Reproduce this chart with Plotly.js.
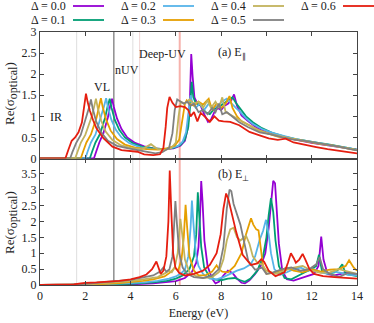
<!DOCTYPE html>
<html>
<head>
<meta charset="utf-8">
<script src="https://cdn.plot.ly/plotly-3.0.1.min.js"></script>
<style>body{margin:0;background:#fff}#plot{width:374px;height:323px}</style>
</head>
<body>
<div id="plot"></div>
<script>
const deltas = ['0.0', '0.1', '0.2', '0.3', '0.4', '0.5', '0.6'];
const colors = ['#9400d3', '#009e73', '#56b4e9', '#e69f00', '#c2b35c', '#808080', '#e51e10'];

// (a) E parallel: energy (eV) and Re(sigma) per delta
const eParD00 = [0, 2.38, 2.48, 2.62, 2.8, 3.0, 3.1, 3.18, 3.26, 3.4, 3.6, 3.85, 4.2, 4.6, 5.0, 5.5, 5.9, 6.2, 6.4, 6.52, 6.62, 6.68, 6.74, 6.82, 6.95, 7.1, 7.25, 7.42, 7.55, 7.7, 7.85, 8.0, 8.15, 8.3, 8.45, 8.57, 8.7, 8.9, 9.2, 9.6, 10.0, 10.5, 11.0, 11.5, 12.0, 12.5, 13.0, 13.5, 14];
const sParD00 = [0, 0, 0.16, 0.38, 0.6, 0.98, 1.25, 1.42, 1.22, 0.95, 0.7, 0.5, 0.37, 0.29, 0.24, 0.22, 0.24, 0.3, 0.42, 0.7, 1.4, 2.48, 1.95, 1.45, 1.3, 1.25, 1.05, 0.87, 0.92, 1.1, 1.2, 1.15, 1.25, 1.3, 1.38, 1.52, 1.25, 1.02, 0.88, 0.72, 0.62, 0.54, 0.48, 0.42, 0.37, 0.33, 0.29, 0.25, 0.21];
const eParD01 = [0, 2.2, 2.3, 2.45, 2.65, 2.88, 2.98, 3.08, 3.16, 3.3, 3.5, 3.75, 4.1, 4.5, 5.0, 5.5, 5.9, 6.2, 6.4, 6.55, 6.64, 6.7, 6.77, 6.88, 7.0, 7.15, 7.3, 7.5, 7.7, 7.9, 8.1, 8.3, 8.5, 8.65, 8.85, 9.1, 9.4, 9.8, 10.3, 10.8, 11.3, 11.8, 12.3, 12.8, 13.3, 13.7, 14];
const sParD01 = [0, 0, 0.16, 0.38, 0.58, 0.98, 1.22, 1.42, 1.2, 0.92, 0.68, 0.5, 0.36, 0.28, 0.24, 0.22, 0.25, 0.32, 0.45, 0.75, 1.3, 1.82, 1.45, 1.32, 1.28, 1.25, 1.1, 1.05, 1.18, 1.22, 1.3, 1.38, 1.45, 1.32, 1.17, 1.0, 0.86, 0.72, 0.6, 0.52, 0.46, 0.41, 0.37, 0.33, 0.28, 0.24, 0.21];
const eParD02 = [0, 2.0, 2.1, 2.25, 2.45, 2.7, 2.82, 2.92, 3.0, 3.15, 3.35, 3.6, 3.95, 4.4, 4.9, 5.4, 5.8, 6.1, 6.3, 6.45, 6.56, 6.65, 6.74, 6.88, 7.05, 7.25, 7.45, 7.65, 7.85, 8.05, 8.25, 8.45, 8.65, 8.85, 9.1, 9.4, 9.8, 10.3, 10.8, 11.3, 11.8, 12.3, 12.8, 13.3, 13.7, 14];
const sParD02 = [0, 0, 0.16, 0.38, 0.57, 0.98, 1.22, 1.43, 1.22, 0.92, 0.68, 0.5, 0.36, 0.27, 0.23, 0.22, 0.25, 0.3, 0.4, 0.62, 1.1, 1.5, 1.3, 1.2, 1.3, 1.15, 1.3, 1.2, 1.25, 1.35, 1.42, 1.3, 1.2, 1.1, 0.95, 0.82, 0.7, 0.6, 0.53, 0.46, 0.41, 0.37, 0.32, 0.28, 0.24, 0.2];
const eParD03 = [0, 1.8, 1.9, 2.05, 2.25, 2.5, 2.6, 2.69, 2.77, 2.92, 3.12, 3.4, 3.75, 4.2, 4.7, 5.2, 5.6, 5.95, 6.15, 6.3, 6.4, 6.48, 6.6, 6.8, 7.0, 7.2, 7.45, 7.6, 7.8, 8.0, 8.2, 8.37, 8.5, 8.7, 8.9, 9.2, 9.6, 10.0, 10.5, 10.9, 11.4, 11.9, 12.4, 12.9, 13.4, 13.7, 14];
const sParD03 = [0, 0, 0.16, 0.38, 0.57, 0.97, 1.22, 1.43, 1.22, 0.92, 0.66, 0.46, 0.33, 0.26, 0.22, 0.21, 0.24, 0.3, 0.45, 0.95, 1.3, 1.38, 1.3, 1.25, 1.35, 1.28, 1.42, 1.15, 1.3, 1.2, 1.3, 1.48, 1.2, 1.0, 0.88, 0.8, 0.68, 0.6, 0.52, 0.49, 0.44, 0.38, 0.34, 0.31, 0.26, 0.22, 0.2];
const eParD04 = [0, 1.55, 1.65, 1.8, 2.0, 2.27, 2.38, 2.47, 2.55, 2.7, 2.9, 3.2, 3.55, 4.0, 4.5, 4.9, 5.2, 5.5, 5.8, 6.0, 6.12, 6.22, 6.4, 6.6, 6.8, 7.0, 7.2, 7.4, 7.55, 7.75, 7.9, 8.05, 8.2, 8.5, 8.8, 9.2, 9.7, 10.2, 10.7, 11.2, 11.7, 12.2, 12.7, 13.2, 13.7, 14];
const sParD04 = [0, 0, 0.15, 0.37, 0.56, 0.97, 1.2, 1.42, 1.2, 0.9, 0.64, 0.44, 0.32, 0.25, 0.22, 0.34, 0.22, 0.2, 0.25, 0.38, 1.0, 1.35, 1.3, 1.4, 1.3, 1.35, 1.2, 1.38, 1.2, 1.35, 1.2, 1.45, 1.1, 1.0, 0.92, 0.8, 0.66, 0.58, 0.52, 0.46, 0.42, 0.37, 0.33, 0.28, 0.23, 0.2];
const eParD05 = [0, 1.33, 1.43, 1.6, 1.8, 2.05, 2.16, 2.25, 2.33, 2.48, 2.7, 3.0, 3.4, 3.9, 4.4, 4.8, 5.1, 5.4, 5.7, 5.85, 5.95, 6.06, 6.2, 6.35, 6.5, 6.65, 6.8, 7.0, 7.2, 7.4, 7.6, 7.75, 7.9, 8.05, 8.25, 8.5, 8.8, 9.2, 9.7, 10.2, 10.7, 11.2, 11.7, 12.2, 12.7, 13.2, 13.7, 14];
const sParD05 = [0, 0, 0.15, 0.37, 0.56, 0.97, 1.2, 1.4, 1.18, 0.88, 0.62, 0.42, 0.3, 0.24, 0.18, 0.15, 0.12, 0.15, 0.25, 0.6, 1.15, 1.4, 1.35, 1.3, 1.35, 1.25, 1.3, 1.1, 1.15, 1.05, 1.2, 1.1, 1.3, 1.05, 1.1, 1.0, 0.86, 0.74, 0.62, 0.57, 0.5, 0.45, 0.42, 0.37, 0.33, 0.28, 0.22, 0.19];
const eParD06 = [0, 1.12, 1.25, 1.4, 1.55, 1.7, 1.85, 1.95, 2.03, 2.1, 2.2, 2.35, 2.5, 2.8, 3.2, 3.6, 4.0, 4.3, 4.6, 5.0, 5.3, 5.45, 5.55, 5.62, 5.72, 5.85, 6.0, 6.2, 6.4, 6.55, 6.65, 6.8, 6.95, 7.1, 7.3, 7.5, 7.7, 7.9, 8.1, 8.4, 8.8, 9.25, 9.7, 10.1, 10.5, 10.85, 11.2, 11.7, 12.2, 12.7, 13.2, 13.7, 14];
const sParD06 = [0, 0, 0.2, 0.42, 0.5, 0.62, 0.85, 1.2, 1.54, 1.35, 1.14, 0.9, 0.71, 0.48, 0.28, 0.2, 0.18, 0.16, 0.1, 0.08, 0.1, 0.25, 0.75, 1.2, 1.46, 1.32, 1.22, 1.24, 1.22, 1.15, 1.0, 1.1, 0.88, 1.08, 0.98, 0.87, 1.0, 0.9, 0.88, 0.87, 0.79, 0.63, 0.55, 0.48, 0.44, 0.47, 0.38, 0.32, 0.27, 0.22, 0.18, 0.14, 0.12];

// (b) E perpendicular
const ePerD00 = [0, 2.4, 3.0, 4.0, 5.0, 5.6, 6.0, 6.4, 6.7, 6.9, 7.0, 7.07, 7.12, 7.18, 7.26, 7.4, 7.6, 7.75, 7.9, 8.1, 8.3, 8.5, 8.7, 8.9, 9.05, 9.25, 9.5, 9.75, 9.95, 10.1, 10.22, 10.3, 10.38, 10.46, 10.55, 10.7, 10.9, 11.2, 11.5, 11.8, 12.1, 12.3, 12.42, 12.52, 12.7, 13.0, 13.3, 13.6, 14];
const sPerD00 = [0, 0, 0.01, 0.02, 0.05, 0.08, 0.12, 0.22, 0.4, 0.7, 1.2, 2.2, 3.27, 2.6, 1.4, 0.6, 0.2, 0.05, 0.1, 0.3, 0.45, 0.38, 0.2, 0.07, 0.05, 0.15, 0.35, 0.6, 1.0, 1.8, 2.8, 3.28, 3.2, 2.4, 1.3, 0.45, 0.18, 0.14, 0.22, 0.28, 0.35, 0.6, 1.52, 0.8, 0.35, 0.3, 0.35, 0.4, 0.3];
const ePerD01 = [0, 2.2, 3.0, 4.0, 5.0, 5.6, 6.0, 6.3, 6.6, 6.8, 6.9, 6.97, 7.03, 7.12, 7.25, 7.45, 7.7, 8.0, 8.3, 8.6, 8.85, 9.05, 9.3, 9.6, 9.85, 10.0, 10.1, 10.2, 10.3, 10.4, 10.55, 10.8, 11.1, 11.4, 11.7, 12.0, 12.2, 12.32, 12.45, 12.7, 13.0, 13.2, 13.35, 13.5, 13.8, 14];
const sPerD01 = [0, 0, 0.02, 0.04, 0.08, 0.13, 0.2, 0.3, 0.5, 0.9, 1.6, 2.92, 2.3, 1.2, 0.55, 0.3, 0.18, 0.15, 0.2, 0.22, 0.15, 0.1, 0.2, 0.45, 0.9, 1.5, 2.2, 2.73, 2.3, 1.4, 0.6, 0.22, 0.18, 0.3, 0.4, 0.5, 0.6, 0.95, 0.45, 0.35, 0.4, 0.5, 0.65, 0.35, 0.3, 0.28];
const ePerD02 = [0, 2.0, 3.0, 4.0, 4.6, 5.2, 5.7, 6.0, 6.25, 6.4, 6.55, 6.65, 6.71, 6.77, 6.88, 7.0, 7.2, 7.5, 7.8, 8.1, 8.4, 8.7, 9.0, 9.3, 9.5, 9.7, 9.85, 9.98, 10.1, 10.2, 10.35, 10.6, 10.9, 11.2, 11.5, 11.8, 12.1, 12.4, 12.7, 13.0, 13.3, 13.6, 14];
const sPerD02 = [0, 0, 0.03, 0.06, 0.08, 0.13, 0.2, 0.27, 0.38, 0.48, 0.9, 1.8, 2.66, 2.0, 1.0, 0.6, 0.35, 0.2, 0.18, 0.25, 0.35, 0.45, 0.52, 0.65, 0.9, 1.42, 1.7, 2.05, 1.6, 1.0, 0.5, 0.32, 0.4, 0.5, 0.55, 0.45, 0.5, 0.4, 0.35, 0.42, 0.38, 0.32, 0.3];
const ePerD03 = [0, 1.8, 2.5, 3.5, 4.0, 4.55, 5.0, 5.5, 5.8, 5.95, 6.1, 6.25, 6.35, 6.43, 6.5, 6.6, 6.8, 7.0, 7.3, 7.6, 7.8, 7.9, 8.05, 8.3, 8.6, 8.9, 9.1, 9.25, 9.32, 9.42, 9.55, 9.65, 9.75, 9.85, 10.0, 10.3, 10.6, 10.9, 11.2, 11.6, 12.0, 12.4, 12.8, 13.2, 13.5, 13.65, 13.85, 14];
const sPerD03 = [0, 0, 0.02, 0.06, 0.09, 0.13, 0.18, 0.27, 0.42, 0.55, 0.45, 0.8, 1.5, 2.52, 1.8, 0.9, 0.45, 0.3, 0.3, 0.42, 0.62, 0.5, 0.42, 0.4, 0.6, 1.0, 1.6, 2.0, 2.1, 1.9, 1.75, 1.72, 1.2, 0.6, 0.35, 0.38, 0.45, 0.55, 0.45, 0.4, 0.5, 0.42, 0.48, 0.5, 0.6, 0.78, 0.55, 0.45];
const ePerD04 = [0, 1.55, 2.3, 3.2, 4.0, 4.55, 5.2, 5.55, 5.7, 5.82, 5.95, 6.08, 6.2, 6.28, 6.4, 6.6, 6.9, 7.2, 7.6, 7.9, 8.1, 8.25, 8.4, 8.55, 8.7, 8.85, 9.0, 9.1, 9.25, 9.4, 9.6, 9.8, 10.0, 10.4, 10.8, 11.2, 11.6, 12.0, 12.4, 12.8, 13.2, 13.6, 14];
const sPerD04 = [0, 0, 0.03, 0.08, 0.12, 0.18, 0.25, 0.38, 0.45, 0.4, 0.55, 1.0, 2.08, 1.6, 0.8, 0.4, 0.28, 0.22, 0.25, 0.4, 0.8, 1.4, 1.75, 1.8, 1.5, 1.4, 1.5, 1.55, 1.3, 0.9, 0.7, 0.65, 0.45, 0.35, 0.45, 0.55, 0.6, 0.45, 0.38, 0.4, 0.5, 0.42, 0.35];
const ePerD05 = [0, 1.33, 2.0, 3.0, 4.0, 4.55, 5.0, 5.3, 5.45, 5.58, 5.72, 5.85, 5.93, 5.98, 6.05, 6.15, 6.3, 6.5, 6.8, 7.2, 7.6, 7.9, 8.1, 8.25, 8.37, 8.45, 8.55, 8.7, 8.85, 9.0, 9.2, 9.5, 9.8, 10.0, 10.3, 10.7, 11.1, 11.5, 11.9, 12.2, 12.35, 12.5, 12.8, 13.2, 13.6, 14];
const sPerD05 = [0, 0, 0.04, 0.09, 0.16, 0.24, 0.3, 0.42, 0.55, 0.42, 0.5, 0.9, 1.8, 2.64, 1.9, 1.0, 0.55, 0.35, 0.25, 0.22, 0.3, 0.5, 1.2, 2.4, 3.0, 2.95, 2.55, 2.2, 1.9, 1.4, 0.75, 0.48, 0.55, 0.35, 0.4, 0.5, 0.55, 0.45, 0.5, 0.65, 0.88, 0.5, 0.35, 0.25, 0.38, 0.35];
const ePerD06 = [0, 1.0, 1.5, 1.8, 2.0, 2.5, 3.0, 3.5, 4.0, 4.4, 4.7, 4.95, 5.14, 5.25, 5.33, 5.45, 5.58, 5.67, 5.73, 5.8, 5.88, 5.98, 6.15, 6.4, 6.8, 7.2, 7.5, 7.8, 7.98, 8.1, 8.22, 8.32, 8.45, 8.66, 8.95, 9.32, 9.6, 9.77, 9.9, 10.1, 10.4, 10.8, 10.95, 11.08, 11.2, 11.3, 11.45, 11.6, 11.72, 11.9, 12.1, 12.5, 13.0, 13.5, 14];
const sPerD06 = [0, 0, 0.02, 0.05, 0.07, 0.08, 0.1, 0.13, 0.18, 0.25, 0.33, 0.5, 0.74, 0.5, 0.35, 0.45, 0.9, 2.0, 3.6, 2.3, 1.0, 0.55, 0.38, 0.3, 0.35, 0.45, 0.63, 1.0, 1.6, 2.4, 2.88, 2.7, 2.3, 1.68, 0.95, 0.63, 0.68, 0.81, 0.73, 0.45, 0.28, 0.4, 0.7, 1.0, 0.85, 0.7, 0.8, 0.98, 0.8, 0.5, 0.35, 0.28, 0.25, 0.22, 0.2];

// spectral region markers (eV)
const regionEdges = [1.62, 3.26, 4.1, 4.4, 6.17];
const regionColors = ['#dedede', '#8e8e8e', '#dedede', '#f0d6d6', '#f6b2ac'];
const regionWidths = [1, 1.5, 1, 1, 2];

const parE = [eParD00, eParD01, eParD02, eParD03, eParD04, eParD05, eParD06];
const parS = [sParD00, sParD01, sParD02, sParD03, sParD04, sParD05, sParD06];
const perE = [ePerD00, ePerD01, ePerD02, ePerD03, ePerD04, ePerD05, ePerD06];
const perS = [sPerD00, sPerD01, sPerD02, sPerD03, sPerD04, sPerD05, sPerD06];

const serif = 'Liberation Serif';
const plotDiv = document.getElementById('plot');

var data = [];
for (let i = 0; i < deltas.length; i++) {
    data.push({x: parE[i], y: parS[i], xaxis: 'x2', yaxis: 'y2', mode: 'lines',
        line: {color: colors[i], width: 1.8}, showlegend: false, hoverinfo: 'skip'});
}
for (let i = 0; i < deltas.length; i++) {
    data.push({x: perE[i], y: perS[i], xaxis: 'x', yaxis: 'y', mode: 'lines',
        line: {color: colors[i], width: 1.8}, showlegend: false, hoverinfo: 'skip'});
}

var shapes = [];
regionEdges.forEach((e, k) => {
    ['y domain', 'y2 domain'].forEach(yr => {
        shapes.push({type: 'line', xref: 'x', yref: yr, x0: e, x1: e, y0: 0, y1: 1,
            layer: 'below', line: {color: regionColors[k], width: regionWidths[k]}});
    });
});

var annotations = [];
// legend drawn gnuplot style: text then line sample
const pxX = px => (px - 40) / 317;
const pxY = py => (285 - py) / 253;
deltas.forEach((d, i) => {
    const col = Math.floor(i / 2), row = i % 2;
    const textRight = 68 + 90 * col;
    const yy = pxY(row === 0 ? 6 : 20);
    annotations.push({xref: 'paper', yref: 'paper', x: pxX(textRight), y: yy,
        xanchor: 'right', yanchor: 'middle', showarrow: false,
        text: '\u0394 = ' + d, font: {family: serif, size: 12, color: '#222'}});
    shapes.push({type: 'line', xref: 'paper', yref: 'paper',
        x0: pxX(textRight + 5), x1: pxX(textRight + 36), y0: yy, y1: yy,
        line: {color: colors[i], width: 1.8}});
});

const labels = [
    {x: 0.7, y: 0.98, text: 'IR'},
    {x: 2.72, y: 1.7, text: 'VL'},
    {x: 3.82, y: 2.1, text: 'nUV'},
    {x: 5.42, y: 2.48, text: 'Deep-UV'},
    {x: 8.5, y: 2.5, text: '(a) E<sub>\u2225</sub>'}
];
labels.forEach(l => annotations.push({xref: 'x2', yref: 'y2', x: l.x, y: l.y, text: l.text,
    xanchor: 'center', yanchor: 'middle',
    showarrow: false, font: {family: serif, size: 12, color: '#222'}}));
annotations.push({xref: 'x', yref: 'y', x: 8.55, y: 3.47, text: '(b) E<sub>\u22a5</sub>',
    xanchor: 'center', yanchor: 'middle',
    showarrow: false, font: {family: serif, size: 12, color: '#222'}});

[0.755, 0.245].forEach(yy => annotations.push({xref: 'paper', yref: 'paper', x: pxX(11), y: yy,
    xanchor: 'center', yanchor: 'middle',
    text: 'Re(\u03c3<sub><span style="font-size:12px">optical</span></sub>)', textangle: -90, showarrow: false,
    font: {family: serif, size: 13, color: '#222'}}));

const axisStyle = {
    showline: true, linecolor: '#444', linewidth: 1, mirror: 'ticks',
    ticks: 'inside', ticklen: 4, tickcolor: '#444', showgrid: false, zeroline: false,
    tickfont: {family: serif, size: 12, color: '#222'}
};

var layout = {
    width: 374, height: 323,
    margin: {l: 40, r: 17, t: 32, b: 38},
    paper_bgcolor: '#fff', plot_bgcolor: '#fff',
    font: {family: serif, size: 12, color: '#222'},
    showlegend: false,
    xaxis: Object.assign({}, axisStyle, {domain: [0, 1], anchor: 'y', range: [0, 14], dtick: 2,
        title: {text: 'Energy (eV)', font: {family: serif, size: 12, color: '#222'}, standoff: 6}}),
    xaxis2: Object.assign({}, axisStyle, {domain: [0, 1], anchor: 'y2', range: [0, 14], dtick: 2,
        matches: 'x', showticklabels: false}),
    yaxis: Object.assign({}, axisStyle, {domain: [0, 0.5], anchor: 'x', range: [0, 3.98],
        tickvals: [0, 0.5, 1, 1.5, 2, 2.5, 3, 3.5], ticktext: ['0', '0.5', '1', '1.5', '2', '2.5', '3', '3.5']}),
    yaxis2: Object.assign({}, axisStyle, {domain: [0.5, 1], anchor: 'x2', range: [0, 3],
        tickvals: [0, 0.5, 1, 1.5, 2, 2.5, 3], ticktext: ['0', '0.5', '1', '1.5', '2', '2.5', '3']}),
    shapes: shapes,
    annotations: annotations
};

Plotly.newPlot(plotDiv, data, layout, {staticPlot: true, displayModeBar: false});
</script>
</body>
</html>
